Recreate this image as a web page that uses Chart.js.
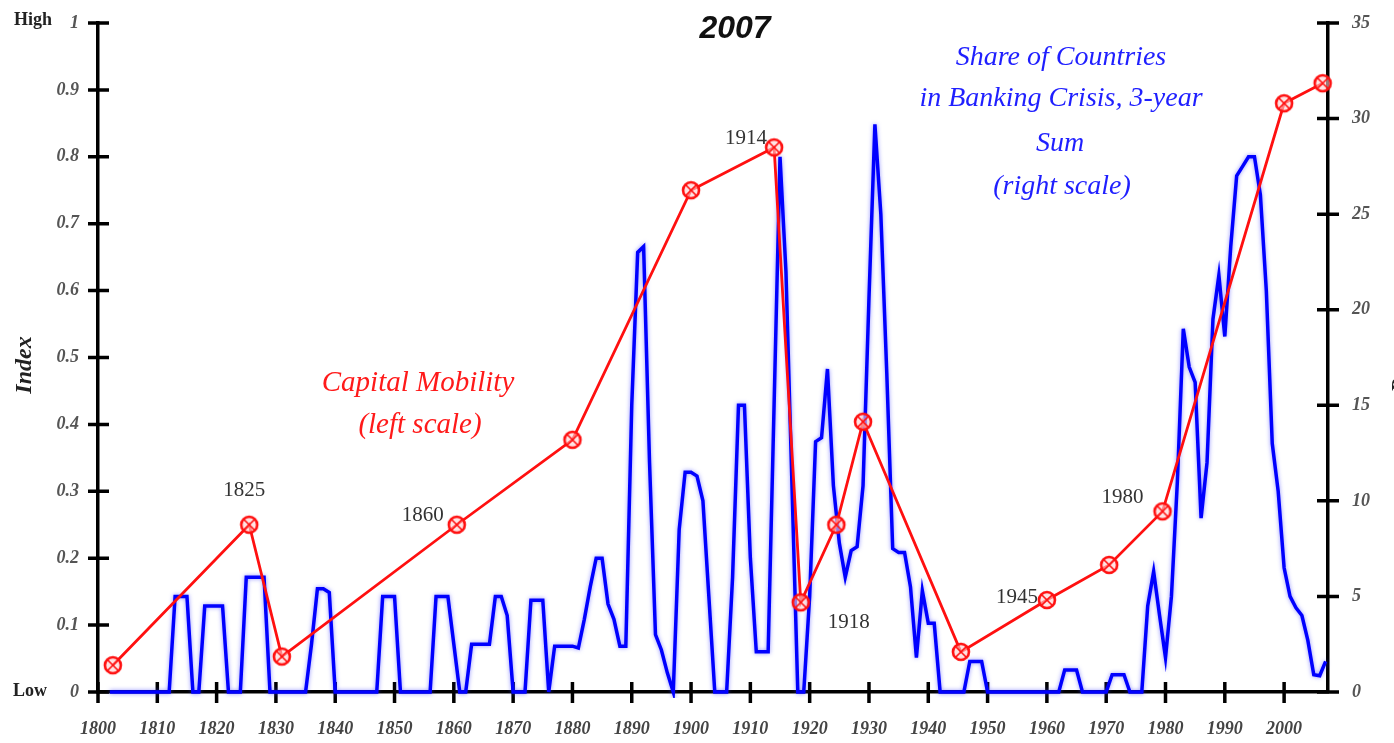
<!DOCTYPE html>
<html lang="en">
  <head>
    <meta charset="UTF-8" />
    <title>Capital Mobility and Banking Crises</title>
    <script src="https://cdnjs.cloudflare.com/ajax/libs/Chart.js/4.4.1/chart.umd.min.js"></script>
    <style>
      body {
        margin: 0;
        padding: 0;
        background: #ffffff;
      }
      #wrap {
        width: 1394px;
        height: 743px;
        position: relative;
      }
    </style>
  </head>
  <body>
    <div id="wrap">
      <canvas id="myChart" width="1394" height="743"></canvas>
    </div>

    <script>
      // Share of countries in banking crisis, 3-year sum (right scale), one value per year from 1802
      const crisisStartYear = 1802;
      const crisisShare = [
        0, 0, 0, 0, 0, 0, 0, 0,                               // 1802-1809
        0, 0, 0, 5, 5, 5, 0, 0, 4.5, 4.5,                     // 1810s
        4.5, 4.5, 0, 0, 0, 6, 6, 6, 6, 0,                     // 1820s
        0, 0, 0, 0, 0, 0, 2.5, 5.4, 5.4, 5.2,                 // 1830s
        0, 0, 0, 0, 0, 0, 0, 0, 5, 5,                         // 1840s
        5, 0, 0, 0, 0, 0, 0, 5, 5, 5,                         // 1850s
        2.5, 0, 0, 2.5, 2.5, 2.5, 2.5, 5, 5, 4,               // 1860s
        0, 0, 0, 4.8, 4.8, 4.8, 0, 2.4, 2.4, 2.4,             // 1870s
        2.4, 2.3, 3.8, 5.5, 7, 7, 4.6, 3.8, 2.4, 2.4,         // 1880s
        15, 23, 23.3, 12, 3, 2.2, 1, 0, 8.5, 11.5,            // 1890s
        11.5, 11.3, 10, 5, 0, 0, 0, 6, 15, 15,                // 1900s
        7, 2.1, 2.1, 2.1, 15, 28, 22, 11, 0, 0,               // 1910s
        5, 13.1, 13.3, 16.9, 10.8, 7.8, 6, 7.4, 7.6, 10.8,    // 1920s
        20.6, 29.7, 25, 16.7, 7.5, 7.3, 7.3, 5.5, 1.8, 5.3,   // 1930s
        3.6, 3.6, 0, 0, 0, 0, 0, 1.6, 1.6, 1.6,               // 1940s
        0, 0, 0, 0, 0, 0, 0, 0, 0, 0,                         // 1950s
        0, 0, 0, 1.15, 1.15, 1.15, 0, 0, 0, 0,                // 1960s
        0, 0.9, 0.9, 0.9, 0, 0, 0, 4.5, 6.3, 4,               // 1970s
        1.8, 5, 11, 19, 17, 16.2, 9.1, 12, 19.5, 21.8,        // 1980s
        18.6, 23.3, 27, 27.5, 28, 28, 26, 21, 13, 10.5,       // 1990s
        6.5, 5, 4.4, 4, 2.7, 0.9, 0.85, 1.6                   // 2000-2007
      ];

      // Capital mobility index (left scale)
      const mobilityYears = [1802.5, 1825.5, 1831, 1860.5, 1880, 1900, 1914, 1918.5,
                             1924.5, 1929, 1945.5, 1960, 1970.5, 1979.5, 2000, 2006.5];
      const mobilityIndex = [0.04, 0.25, 0.053, 0.25, 0.377, 0.75, 0.814, 0.134,
                             0.25, 0.404, 0.06, 0.1375, 0.19, 0.27, 0.88, 0.91];

      // labelled points on the capital mobility line
      const yearNotes = ["1825", "1860", "1914", "1918", "1945", "1980"];

      const serif = '"Liberation Serif", "Times New Roman", serif';

      // circle with a cross, like the original marker
      const makeMarker = () => {
        const c = document.createElement("canvas");
        c.width = 22;
        c.height = 22;
        const g = c.getContext("2d");
        g.strokeStyle = "#ff1010";
        g.fillStyle = "rgba(255,210,210,0.6)";
        g.lineWidth = 2.6;
        g.beginPath();
        g.arc(11, 11, 8, 0, Math.PI * 2);
        g.fill();
        g.stroke();
        g.lineWidth = 1.6;
        g.beginPath();
        g.moveTo(6, 6);
        g.lineTo(16, 16);
        g.moveTo(16, 6);
        g.lineTo(6, 16);
        g.stroke();
        return c;
      };

      // tick marks that cross the axis lines
      const crossTicks = {
        id: "crossTicks",
        beforeDatasetsDraw(chart) {
          const ctx = chart.ctx;
          const area = chart.chartArea;
          const sx = chart.scales.x;
          const sy = chart.scales.y;
          const sy2 = chart.scales.y2;
          ctx.save();
          ctx.strokeStyle = "#000";
          ctx.lineWidth = 3.5;
          ctx.beginPath();
          sx.ticks.forEach((t) => {
            const px = sx.getPixelForValue(t.value);
            ctx.moveTo(px, area.bottom - 10);
            ctx.lineTo(px, area.bottom + 11);
          });
          sy.ticks.forEach((t) => {
            const py = sy.getPixelForValue(t.value);
            ctx.moveTo(area.left - 10, py);
            ctx.lineTo(area.left + 11, py);
          });
          sy2.ticks.forEach((t) => {
            const py = sy2.getPixelForValue(t.value);
            ctx.moveTo(area.right - 11, py);
            ctx.lineTo(area.right + 11, py);
          });
          ctx.stroke();
          ctx.restore();
        },
        // soft halo round the blue line
        beforeDatasetDraw(chart, args) {
          if (args.index === 1) {
            chart.ctx.save();
            chart.ctx.shadowColor = "rgba(60,60,255,0.55)";
            chart.ctx.shadowBlur = 4;
          }
        },
        afterDatasetDraw(chart, args) {
          if (args.index === 1) chart.ctx.restore();
        },
      };

      // texts written on the chart
      const chartTexts = {
        id: "chartTexts",
        afterDraw(chart) {
          const ctx = chart.ctx;
          const sx = chart.scales.x;
          const sy = chart.scales.y;
          ctx.save();
          ctx.textAlign = "center";
          ctx.textBaseline = "middle";

          ctx.fillStyle = "#111";
          ctx.font = 'bold italic 32px "Liberation Sans", Arial, sans-serif';
          ctx.fillText("2007", 735, 29);

          ctx.fillStyle = "#1f1fff";
          ctx.font = "italic 28px " + serif;
          ctx.fillText("Share of Countries", 1061, 58);
          ctx.fillText("in Banking Crisis, 3-year", 1061, 99);
          ctx.fillText("Sum", 1060, 144);
          ctx.fillText("(right scale)", 1062, 187);

          ctx.fillStyle = "#ff1a1a";
          ctx.font = "italic 29px " + serif;
          ctx.fillText("Capital Mobility", 418, 383);
          ctx.fillText("(left scale)", 420, 425);

          // year labels placed next to their points
          const offsets = [[-5, -34], [-34, -9], [-28, -9], [48, 20], [-30, -3], [-40, -14]];
          const pointIdx = [1, 3, 6, 7, 11, 13];
          ctx.fillStyle = "#333";
          ctx.font = "21px " + serif;
          yearNotes.forEach((txt, i) => {
            const k = pointIdx[i];
            const px = sx.getPixelForValue(mobilityYears[k]);
            const py = sy.getPixelForValue(mobilityIndex[k]);
            ctx.fillText(txt, px + offsets[i][0], py + offsets[i][1]);
          });

          ctx.fillStyle = "#222";
          ctx.font = "bold 18px " + serif;
          ctx.fillText("High", 33, 20);
          ctx.fillText("Low", 30, 691);

          ctx.font = "bold italic 24px " + serif;
          ctx.translate(25, 365);
          ctx.rotate(-Math.PI / 2);
          ctx.fillText("Index", 0, 0);
          ctx.restore();

          ctx.save();
          ctx.fillStyle = "#222";
          ctx.font = "bold italic 22px " + serif;
          ctx.textAlign = "center";
          ctx.textBaseline = "alphabetic";
          ctx.translate(1406, 358);
          ctx.rotate(-Math.PI / 2);
          ctx.fillText("Percent", 0, 0);
          ctx.restore();
        },
      };

      const generateChart = () => {
        const ctx = document.getElementById("myChart").getContext("2d");
        const tickFont = { family: serif, size: 18, style: "italic", weight: "bold" };

        new Chart(ctx, {
          type: "line",
          data: {
            datasets: [
              {
                label: "Capital Mobility (left scale)",
                data: mobilityYears.map((yr, i) => ({ x: yr, y: mobilityIndex[i] })),
                yAxisID: "y",
                borderColor: "#ff1010",
                borderWidth: 2.8,
                pointStyle: makeMarker(),
                pointRadius: 9,
                tension: 0,
                clip: 12,
                order: 0,
              },
              {
                label: "Share of Countries in Banking Crisis, 3-year Sum (right scale)",
                data: crisisShare.map((v, i) => ({ x: crisisStartYear + i, y: v })),
                yAxisID: "y2",
                borderColor: "#0000ff",
                borderWidth: 3.5,
                pointRadius: 0,
                tension: 0,
                clip: 6,
                order: 1,
              },
            ],
          },
          options: {
            responsive: false,
            animation: false,
            layout: { padding: { top: 23, left: 0, right: 0, bottom: 0 } },
            plugins: {
              legend: { display: false },
              tooltip: { enabled: false },
            },
            scales: {
              x: {
                type: "linear",
                min: 1800,
                max: 2007.4,
                grid: { display: false },
                border: { display: true, color: "#000", width: 3.5 },
                ticks: {
                  stepSize: 10,
                  includeBounds: false,
                  autoSkip: false,
                  maxRotation: 0,
                  padding: 19,
                  color: "#444",
                  font: tickFont,
                  callback: (v) => String(v),
                },
                afterFit: (s) => {
                  s.height = 51;
                  s.paddingLeft = 0;
                  s.paddingRight = 0;
                },
              },
              y: {
                position: "left",
                min: 0,
                max: 1,
                grid: { display: false },
                border: { display: true, color: "#000", width: 3.5 },
                ticks: {
                  stepSize: 0.1,
                  padding: 11,
                  color: "#555",
                  font: tickFont,
                  callback: (v) => (v === 0 || v === 1 ? String(v) : v.toFixed(1)),
                },
                afterFit: (s) => {
                  s.width = 98;
                  s.paddingTop = 0;
                  s.paddingBottom = 0;
                },
              },
              y2: {
                position: "right",
                min: 0,
                max: 35,
                grid: { display: false },
                border: { display: true, color: "#000", width: 3.5 },
                ticks: {
                  stepSize: 5,
                  padding: 16,
                  color: "#555",
                  font: tickFont,
                },
                afterFit: (s) => {
                  s.width = 66;
                  s.paddingTop = 0;
                  s.paddingBottom = 0;
                },
              },
            },
          },
          plugins: [crossTicks, chartTexts],
        });
      };

      document.addEventListener("DOMContentLoaded", generateChart);
    </script>
  </body>
</html>
